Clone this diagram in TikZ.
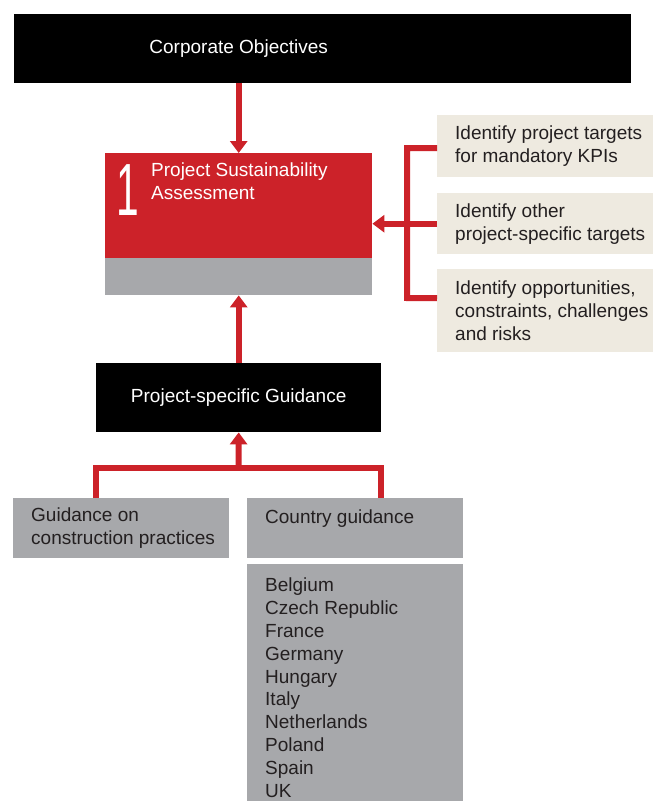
\documentclass[tikz,border=0pt]{standalone}
\usepackage{fontspec}
\setmainfont{Liberation Sans}
\usetikzlibrary{arrows.meta, positioning}
\definecolor{BoxRed}{RGB}{204, 34, 41}
\definecolor{BoxGrey}{RGB}{167, 168, 171}
\definecolor{BoxBeige}{RGB}{238, 234, 224}
\definecolor{TextDark}{RGB}{35, 31, 32}

\begin{document}
\begin{tikzpicture}[x = 1pt, y = -1pt,
    box/.style = {rectangle, anchor = north west, inner sep = 0pt},
    txt/.style = {inner sep = 0pt, align = left, text = TextDark,
        font = \fontsize{19}{22.8}\selectfont},
    wtxt/.style = {txt, text = white},
    redline/.style = {draw = BoxRed, line width = 6pt},
    arr/.style = {redline, -{Triangle[length = 12pt, width = 17pt]}}]
    \useasboundingbox (0, 0) rectangle (659, 801);
    %黑色框
    \node[box, fill = black, minimum width = 617pt, minimum height = 69pt] (corp) at (14, 14) {};
    \node[box, fill = black, minimum width = 285pt, minimum height = 69pt] (guid) at (96, 363) {};
    %红色框
    \node[box, fill = BoxRed, minimum width = 267pt, minimum height = 105pt] (psa) at (105, 153) {};
    \node[box, fill = BoxGrey, minimum width = 267pt, minimum height = 37pt] (strip) at (105, 258) {};
    %右侧目标
    \node[box, fill = BoxBeige, minimum width = 216pt, minimum height = 62pt] (t1) at (437, 115) {};
    \node[box, fill = BoxBeige, minimum width = 216pt, minimum height = 61pt] (t2) at (437, 193) {};
    \node[box, fill = BoxBeige, minimum width = 216pt, minimum height = 83pt] (t3) at (437, 269) {};
    %底部指南
    \node[box, fill = BoxGrey, minimum width = 216pt, minimum height = 60pt] (gcp) at (13, 498) {};
    \node[box, fill = BoxGrey, minimum width = 216pt, minimum height = 60pt] (cg) at (247, 498) {};
    \node[box, fill = BoxGrey, minimum width = 216pt, minimum height = 237pt] (list) at (247, 564) {};
    %文字
    \node[wtxt] (corptext) at (corp.center -| psa.center) {Corporate Objectives};
    \node[wtxt] (guidtext) at (guid.center) {Project-specific Guidance};
    \node[wtxt, anchor = base west, font = \fontsize{74}{74}\selectfont] (num) at (116, 215) {\scalebox{0.55}[1]{1}};
    \node[wtxt, anchor = base west] (title) at (151, 199) {Project Sustainability\\Assessment};
    \node[txt, right = 18pt of t1.west] (t1text) {Identify project targets\\for mandatory KPIs};
    \node[txt, right = 18pt of t2.west] (t2text) {Identify other\\project-specific targets};
    \node[txt, right = 18pt of t3.west] (t3text) {Identify opportunities,\\constraints, challenges\\and risks};
    \node[txt, right = 18pt of gcp.west] (gcptext) {Guidance on\\construction practices};
    \node[txt, right = 18pt of cg.west] (cgtext) {Country guidance\\\mbox{}};
    \node[txt, right = 18pt of list.west, yshift = -5pt] (listtext)
        {Belgium\\Czech Republic\\France\\Germany\\Hungary\\Italy\\Netherlands\\Poland\\Spain\\UK};
    %箭头
    \coordinate (brk) at (407, 0);
    \coordinate (join) at (238.5, 468);
    \draw[arr] (corp.south -| psa.north) -- (psa.north);
    \draw[arr] (guid.north) -- (strip.south);
    \draw[redline] ([yshift = -2pt]t1.west) -| (brk |- 0, 298) -- ([yshift = 12.5pt]t3.west);
    \draw[arr] (t2.west) -- (t2.west -| psa.east);
    \draw[redline] (gcp.north -| guid.south west) |- (join) -| (cg.north -| guid.south east);
    \draw[arr] (join) -- (guid.south);
\end{tikzpicture}
\end{document}
